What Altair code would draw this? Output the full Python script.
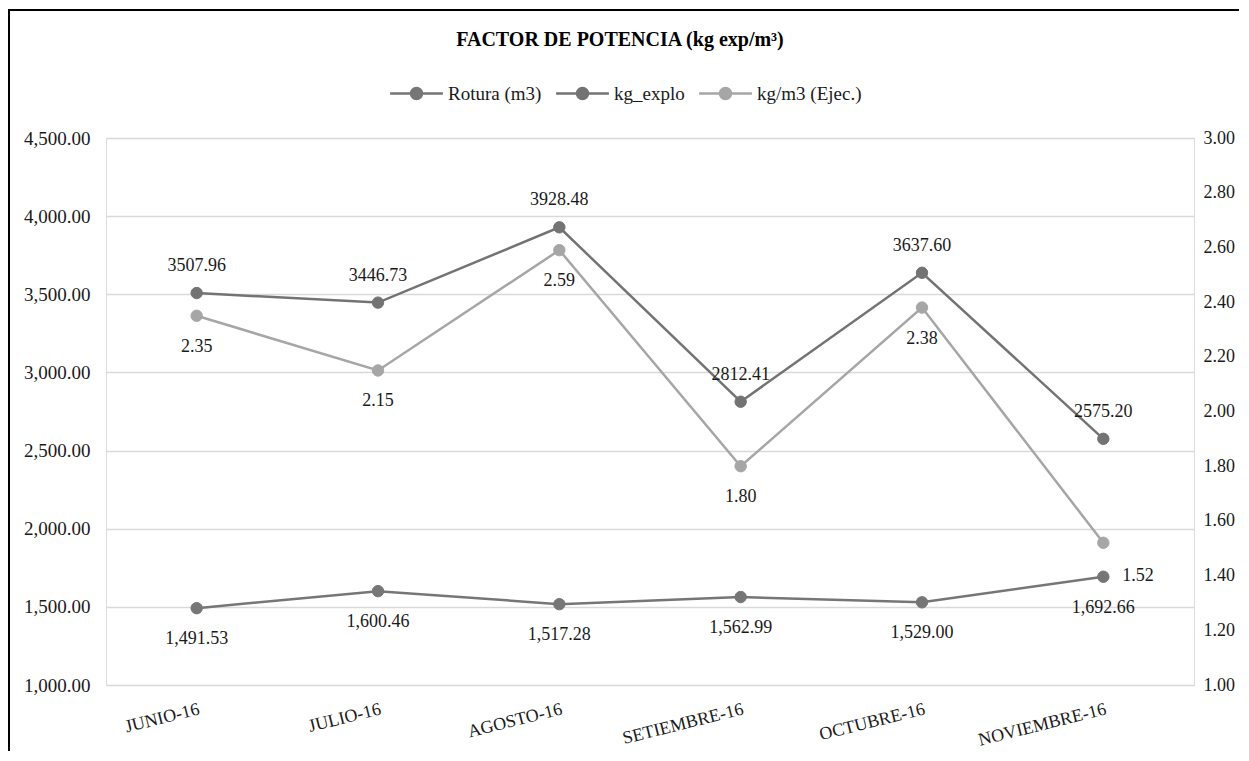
import altair as alt
import pandas as pd

# ---- data ----
months = ["JUNIO-16", "JULIO-16", "AGOSTO-16", "SETIEMBRE-16", "OCTUBRE-16", "NOVIEMBRE-16"]
rotura = [1491.53, 1600.46, 1517.28, 1562.99, 1529.00, 1692.66]
kg_explo = [3507.96, 3446.73, 3928.48, 2812.41, 3637.60, 2575.20]
kg_m3 = [2.35, 2.15, 2.59, 1.80, 2.38, 1.52]
series_names = ["Rotura (m3)", "kg_explo", "kg/m3 (Ejec.)"]
left_ticks = [1000, 1500, 2000, 2500, 3000, 3500, 4000, 4500]
right_ticks = [1.0, 1.2, 1.4, 1.6, 1.8, 2.0, 2.2, 2.4, 2.6, 2.8, 3.0]

colors = ["#767676", "#737373", "#a6a6a6"]
FONT = "Liberation Serif"
TXT = "#1a1a1a"

df_left = pd.DataFrame({
    "mes": months * 2,
    "serie": [series_names[0]] * len(months) + [series_names[1]] * len(months),
    "valor": rotura + kg_explo,
})
df_right = pd.DataFrame({"mes": months, "serie": [series_names[2]] * len(months), "valor": kg_m3})

legend_path = ("M-4.8,0L-1,0M1,0L4.8,0"
               "M1,0A1,1,0,1,1,-1,0A1,1,0,1,1,1,0Z")

legend = alt.Legend(
    orient="none", legendX=301, legendY=-54, direction="horizontal", title=None,
    labelFont=FONT, labelFontSize=19, labelColor=TXT,
    symbolType=legend_path, symbolSize=121, labelOffset=22, columnPadding=9,
    symbolStrokeWidth=2.5, symbolOpacity=1,
)

cscale = alt.Scale(domain=series_names, range=colors)
stroke = alt.Stroke("serie:N", scale=cscale, legend=legend)
fill = alt.Fill("serie:N", scale=cscale, legend=legend)

x = alt.X("mes:N", sort=months, scale=alt.Scale(padding=0.5),
          axis=alt.Axis(title=None, labelAngle=-14, labelAlign="right", labelBaseline="top",
                        labelPadding=15, ticks=False, domain=False, grid=False,
                        labelFont=FONT, labelFontSize=18, labelColor=TXT))

y_left = alt.Y("valor:Q", scale=alt.Scale(domain=[1000, 4500], nice=False, zero=False),
               axis=alt.Axis(title=None, values=left_ticks, format=",.2f", orient="left",
                             grid=True, gridColor="#d9d9d9", gridWidth=1.5,
                             domain=False, ticks=False, labelPadding=16,
                             labelFont=FONT, labelFontSize=19, labelColor=TXT))

y_right = alt.Y("valor:Q", scale=alt.Scale(domain=[1, 3], nice=False, zero=False),
                axis=alt.Axis(title=None, values=right_ticks, format=".2f", orient="right",
                              grid=False, domain=False, ticks=False, labelPadding=9,
                              labelFont=FONT, labelFontSize=18, labelColor=TXT))

txt_kw = dict(font=FONT, fontSize=18, color=TXT, baseline="alphabetic")

bl = alt.Chart(df_left)
left_lines = bl.mark_line(strokeWidth=2.5).encode(x=x, y=y_left, stroke=stroke)
left_points = bl.mark_circle(size=130, opacity=1, strokeWidth=1).encode(
    x=x, y=y_left, fill=fill, stroke=stroke)
rot_text = bl.transform_filter(alt.datum.serie == series_names[0]).mark_text(dy=36, **txt_kw).encode(
    x=x, y=y_left, text=alt.Text("valor:Q", format=",.2f"))
kg_text = bl.transform_filter(alt.datum.serie == series_names[1]).mark_text(dy=-22, **txt_kw).encode(
    x=x, y=y_left, text=alt.Text("valor:Q", format=".2f"))

frame = alt.Chart(pd.DataFrame({"k": [0]}))
border_left = frame.mark_rect(color="#000", opacity=1).encode(
    x=alt.value(-98), x2=alt.value(-96), y=alt.value(-129), y2=alt.value(700))
border_top = frame.mark_rect(color="#000", opacity=1).encode(
    x=alt.value(-98), x2=alt.value(1300), y=alt.value(-129), y2=alt.value(-127))

left_layer = alt.layer(left_lines, left_points, rot_text, kg_text, border_left, border_top)

br = alt.Chart(df_right)
right_lines = br.mark_line(strokeWidth=2.5).encode(x=x, y=y_right, stroke=stroke)
right_points = br.mark_circle(size=130, opacity=1, strokeWidth=1).encode(
    x=x, y=y_right, fill=fill, stroke=stroke)
r_text = br.transform_filter(alt.datum.mes != months[-1]).mark_text(dy=36, **txt_kw).encode(
    x=x, y=y_right, text=alt.Text("valor:Q", format=".2f"))
r_text_last = br.transform_filter(alt.datum.mes == months[-1]).mark_text(
    dy=38, dx=19, align="left", **txt_kw).encode(
    x=x, y=y_right, text=alt.Text("valor:Q", format=".2f"))

right_layer = alt.layer(right_lines, right_points, r_text, r_text_last)

chart = alt.layer(left_layer, right_layer).resolve_scale(y="independent").properties(
    width=1088, height=547,
    title=alt.TitleParams(text="FACTOR DE POTENCIA (kg exp/m³)", font=FONT, fontSize=20,
                          fontWeight="bold", color="#000", anchor="middle", dx=-30,
                          baseline="alphabetic", offset=-57),
    autosize=alt.AutoSizeParams(type="none"),
    padding={"left": 98, "top": 130, "right": 45, "bottom": 66},
).configure_view(stroke=None).configure(background="white")

chart.save("out.html", embed_options={"renderer": "svg", "actions": False})
